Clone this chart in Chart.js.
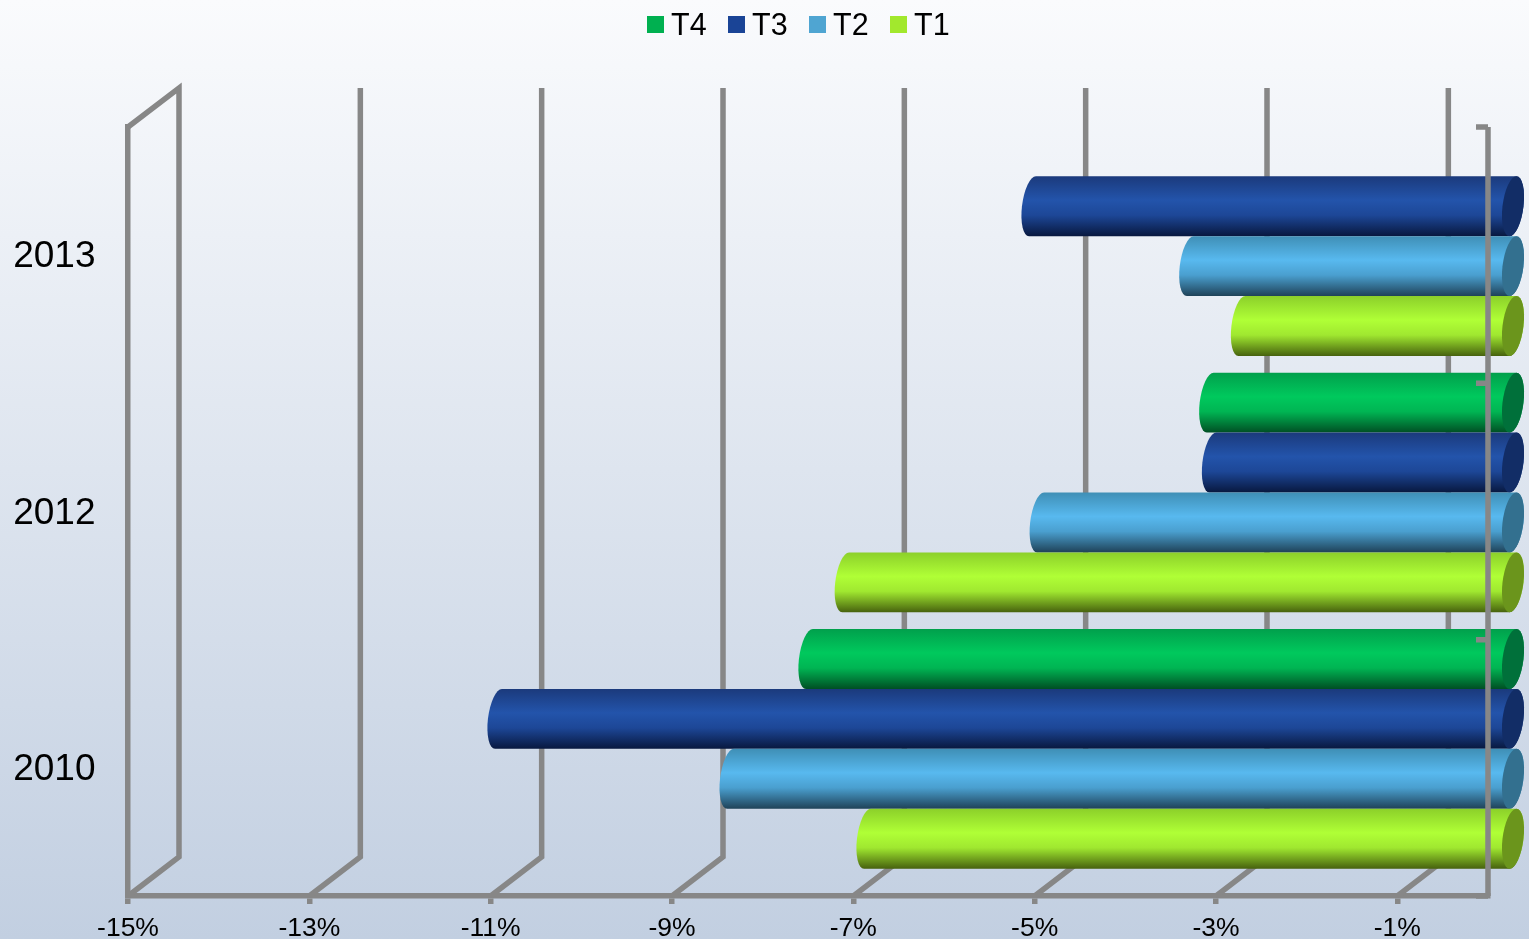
<!DOCTYPE html>
<html>
<head>
<meta charset="utf-8">
<title>T1-T4</title>
<script src="https://cdn.jsdelivr.net/npm/chart.js@4"></script>
<style>
  html, body { margin: 0; padding: 0; overflow: hidden; }
  body {
    width: 1529px;
    height: 939px;
    position: relative;
    background: linear-gradient(#fafbfd 0%, #c2cfe1 100%);
    font-family: "Liberation Sans", Arial, sans-serif;
  }
  canvas { position: absolute; left: 0; top: 0; }
  #legend {
    position: absolute;
    left: 647px;
    top: 6px;
    display: flex;
    font-size: 30.5px;
    line-height: 36px;
    color: #000;
  }
  #legend div { display: flex; align-items: center; width: 81px; }
  #legend i { width: 17px; height: 17px; margin-right: 7px; display: block; }
</style>
</head>
<body>
<canvas id="chart" width="1529" height="939"></canvas>
<div id="legend"></div>
<script>
const years = ["2013", "2012", "2010"];
const xTicks = [-15, -13, -11, -9, -7, -5, -3, -1];

const t4 = [null, -3.34, -7.76];
const t3 = [-5.3, -3.31, -11.19];
const t2 = [-3.56, -5.21, -8.63];
const t1 = [-2.99, -7.36, -7.12];

const gridColor = "#878787";
const lineW = 5.5;
// 3d depth of the box and of the bars inside it
const wallDx = 51, wallDy = -39;
const barDx = 25, barDy = -19;
const capRx = 10.5, skew = -0.115;

// [top, light, mid, bottom, end cap]
const shades = {
  T4: ["#01a04c", "#00c95d", "#00b553", "#004f24", "#00703a"],
  T3: ["#1b3a7c", "#2354ab", "#1d4797", "#08183f", "#122d66"],
  T2: ["#3f8fb6", "#58b9ef", "#4a9fcf", "#1f4258", "#33708f"],
  T1: ["#8cd02a", "#b0ff36", "#a0e830", "#47620e", "#6b951c"],
};

function cylinder(ctx, el, tone) {
  const r = el.height / 2;
  const xL = el.x + barDx, xR = el.base + barDx;
  ctx.save();
  ctx.transform(1, 0, skew, 1, 0, el.y + barDy);

  const g = ctx.createLinearGradient(0, -r, 0, r);
  g.addColorStop(0, tone[0]);
  g.addColorStop(0.4, tone[1]);
  g.addColorStop(0.65, tone[2]);
  g.addColorStop(1, tone[3]);

  ctx.beginPath();
  ctx.moveTo(xL, -r);
  ctx.lineTo(xR, -r);
  ctx.ellipse(xR, 0, capRx, r, 0, -Math.PI / 2, Math.PI / 2);
  ctx.lineTo(xL, r);
  ctx.ellipse(xL, 0, capRx, r, 0, Math.PI / 2, Math.PI * 1.5);
  ctx.closePath();
  ctx.fillStyle = g;
  ctx.fill();

  ctx.beginPath();
  ctx.ellipse(xR, 0, capRx, r, 0, 0, Math.PI * 2);
  ctx.fillStyle = tone[4];
  ctx.fill();
  ctx.restore();
}

const box3d = {
  id: "box3d",
  beforeDatasetsDraw(chart) {
    const { ctx, chartArea: a, scales: { x } } = chart;
    ctx.save();
    ctx.strokeStyle = gridColor;
    ctx.lineWidth = lineW;
    ctx.lineJoin = "miter";
    xTicks.forEach((v) => {
      const px = x.getPixelForValue(v);
      ctx.beginPath();
      ctx.moveTo(px, a.bottom);
      ctx.lineTo(px + wallDx, a.bottom + wallDy);
      ctx.lineTo(px + wallDx, a.top + wallDy);
      if (v === xTicks[0]) ctx.lineTo(px, a.top);
      ctx.stroke();
    });
    ctx.restore();
  },
  // library's own rectangles are skipped, the cylinders use their geometry
  beforeDatasetDraw() {
    return false;
  },
  afterDatasetsDraw(chart) {
    const { ctx, chartArea: a } = chart;
    chart.data.datasets.forEach((ds, i) => {
      chart.getDatasetMeta(i).data.forEach((el, j) => {
        if (ds.data[j] !== null) cylinder(ctx, el, shades[ds.label]);
      });
    });
    // front right axis goes over the bars
    ctx.save();
    ctx.strokeStyle = gridColor;
    ctx.lineWidth = lineW;
    ctx.beginPath();
    ctx.moveTo(a.right, a.top);
    ctx.lineTo(a.right, a.bottom);
    const step = a.height / years.length;
    for (let i = 0; i <= years.length; i++) {
      ctx.moveTo(a.right - 12, a.top + step * i);
      ctx.lineTo(a.right, a.top + step * i);
    }
    ctx.stroke();
    ctx.restore();
  },
};

const chart = new Chart(document.getElementById("chart"), {
  type: "bar",
  data: {
    labels: years,
    datasets: [
      { label: "T4", data: t4, backgroundColor: "#00b050" },
      { label: "T3", data: t3, backgroundColor: "#1a4496" },
      { label: "T2", data: t2, backgroundColor: "#4fa5d2" },
      { label: "T1", data: t1, backgroundColor: "#a2e82d" },
    ],
  },
  options: {
    indexAxis: "y",
    responsive: false,
    animation: false,
    devicePixelRatio: 1,
    layout: { padding: { top: 127, right: 41 } },
    categoryPercentage: 0.935,
    barPercentage: 1,
    plugins: {
      legend: { display: false },
      title: { display: false },
      tooltip: { enabled: false },
    },
    scales: {
      x: {
        min: -15,
        max: 0,
        afterBuildTicks: (axis) => {
          axis.ticks = xTicks.map((value) => ({ value }));
        },
        afterFit: (axis) => {
          axis.height = 43;
        },
        border: { color: gridColor, width: lineW },
        grid: { drawOnChartArea: false, color: gridColor, lineWidth: lineW, tickLength: 8 },
        ticks: {
          autoSkip: false,
          maxRotation: 0,
          color: "#000",
          padding: 9,
          font: { family: "Liberation Sans", size: 26.5 },
          callback: (value) => `${value}%`,
        },
      },
      y: {
        afterFit: (axis) => {
          axis.width = 128;
        },
        border: { color: gridColor, width: lineW },
        grid: { display: false },
        ticks: {
          color: "#000",
          padding: 24.5,
          labelOffset: 2,
          font: { family: "Liberation Sans", size: 37, lineHeight: 1 },
        },
      },
    },
  },
  plugins: [box3d],
});

// legend with a tighter swatch gap than the built-in one
document.getElementById("legend").innerHTML = chart.data.datasets
  .map((ds) => `<div><i style="background:${ds.backgroundColor}"></i>${ds.label}</div>`)
  .join("");
</script>
</body>
</html>
